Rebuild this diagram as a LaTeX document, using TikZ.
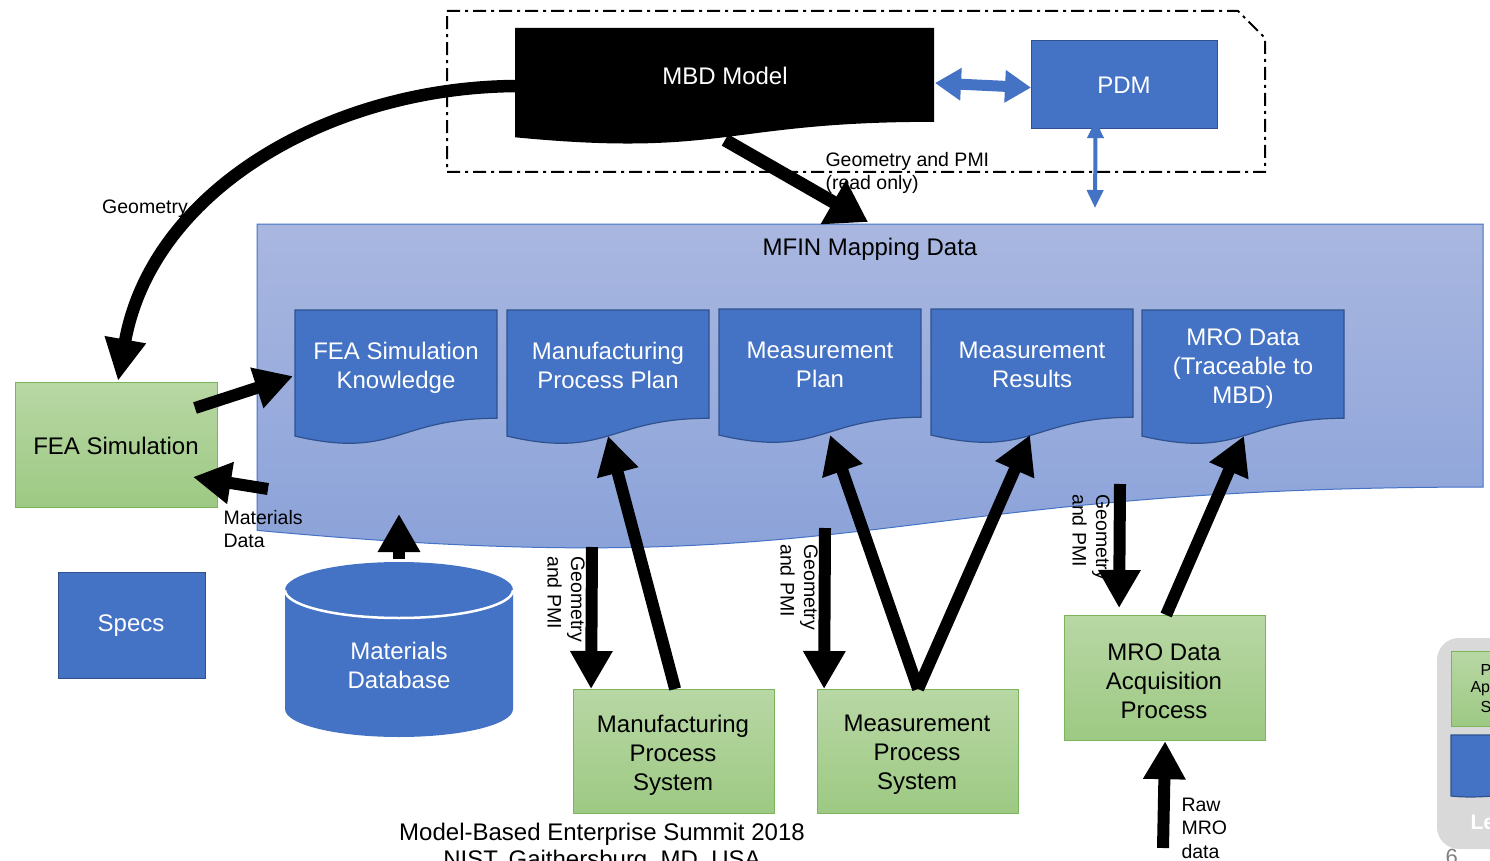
\documentclass[tikz,border=0pt]{standalone}
\usepackage{fontspec}
\setmainfont{Liberation Sans}
\usetikzlibrary{arrows.meta}

\definecolor{mblue}{HTML}{4472C4}
\definecolor{mbdr}{HTML}{2F528F}
\definecolor{gtop}{HTML}{B8D7A4}
\definecolor{gbot}{HTML}{9DC983}
\definecolor{gbdr}{HTML}{7AB55C}
\definecolor{maptop}{HTML}{A9B7E0}
\definecolor{mapbot}{HTML}{88A0D8}
\definecolor{panel}{HTML}{D9D9D9}

% document shape: flat top, wavy bottom; names the middle of the bottom edge
% and a point on the left edge
\newcommand\docshape[6]{%
  \path[#6] (#2,#3) -- ++(#4,0) -- ++(0,{0.802*#5})
    .. controls ({#2+0.5*#4},{#3+0.802*#5}) and ({#2+0.5*#4},{#3+1.1075*#5})
    .. ({#2},{#3+0.934*#5}) -- cycle;
  \coordinate (#1-b) at ({#2+0.5*#4},{#3+0.933*#5});
  \coordinate (#1-w) at ({#2-2},{#3+0.49*#5});
}

\tikzset{
  big/.style={font=\fontsize{24}{29}\selectfont, align=center},
  small/.style={font=\fontsize{19.5}{23.5}\selectfont, align=left},
  bluebox/.style={draw=mbdr, fill=mblue, line width=1.2pt},
  greenbox/.style={draw=gbdr, top color=gtop, bottom color=gbot, line width=1.2pt},
  docfill/.style={draw=mbdr, fill=mblue, line width=1.2pt},
  wtext/.style={big, text=white},
  blk/.style={draw=black, line width=12pt, -{Triangle[length=38pt,width=40pt]}},
  blkwide/.style={draw=black, line width=13pt, -{Triangle[length=40pt,width=48pt]}},
  blkcurve/.style={draw=black, line width=12.5pt, -{Triangle[length=42pt,width=39pt]}},
  bluedbl/.style={draw=mblue, line width=11pt,
    {Triangle[length=26pt,width=31pt]}-{Triangle[length=26pt,width=31pt]}},
  bluethin/.style={draw=mblue, line width=4pt,
    {Triangle[length=18pt,width=16pt]}-{Triangle[length=18pt,width=16pt]}},
  dashdot/.style={draw=black, line width=2pt, dash pattern=on 13pt off 5pt on 3pt off 5pt}
}

\begin{document}
\begin{tikzpicture}[x=1pt, y=-1pt]
\clip (0,0) rectangle (1490,861);
\fill[white] (0,0) rectangle (1490,861);

% ---------- MBD / PDM group ----------
\draw[dashdot] (447,11) -- (1238,11) -- (1265,38) -- (1265,172) -- (447,172) -- cycle;
\docshape{mbd}{515}{28}{419}{117}{fill=black}
\node[wtext] (mbdt) at (725,76) {MBD Model};
\node[bluebox, minimum width=186pt, minimum height=88pt, anchor=north west] (pdm) at (1031,40) {};
\node[wtext] (pdmt) at (1124,85) {PDM};
\coordinate (mbd-e) at (935,83);
\draw[bluedbl] (mbd-e) -- ([yshift=-3pt]pdm.west);
\coordinate (pdm-lo) at (1095,208);
\draw[bluethin] ([xshift=-29pt,yshift=9pt]pdm.south) -- (pdm-lo);

% ---------- MFIN mapping data ----------
\docshape{mfin}{257}{224}{1226}{328}{draw=mblue, line width=1pt, top color=maptop, bottom color=mapbot}
\node[big] (mfint) at (870,249) {MFIN Mapping Data};

\docshape{fsk}{295}{310}{202}{135}{docfill}
\node[wtext] (fskt) at (396,368) {FEA Simulation\\Knowledge};
\docshape{mpp}{507}{310}{202}{135}{docfill}
\node[wtext] (mppt) at (608,365) {Manufacturing\\Process Plan};
\docshape{mp}{719}{309}{202}{135}{docfill}
\node[wtext] (mpt) at (820,365) {Measurement\\Plan};
\docshape{mr}{931}{309}{202}{135}{docfill}
\node[wtext] (mrt) at (1032,365) {Measurement\\Results};
\docshape{mro}{1142}{310}{202}{135}{docfill}
\node[wtext] (mrot) at (1243,369) {MRO Data\\(Traceable to\\MBD)};

% ---------- left column ----------
\node[greenbox, minimum width=202pt, minimum height=125pt, anchor=north west] (fea) at (15,382) {};
\node[big] (feat) at (116,446) {FEA Simulation};
\node[bluebox, minimum width=147pt, minimum height=106pt, anchor=north west] (specs) at (58,572) {};
\node[wtext] (specst) at (131,626) {Specs};

% materials database cylinder
\fill[mblue] (285,590) -- (285,709) arc[start angle=180, end angle=0, x radius=114, y radius=28]
  -- (513,590) arc[start angle=0, end angle=-180, x radius=114, y radius=28] -- cycle;
\draw[white, line width=2.5pt] (285,590) arc[start angle=180, end angle=0, x radius=114, y radius=28];
\node[wtext] (matdb) at (399,665) {Materials\\Database};
\coordinate (matdb-top) at (399,559);
\coordinate (mfin-mat) at (399,514);

% ---------- lower systems ----------
\node[greenbox, minimum width=201pt, minimum height=124pt, anchor=north west] (mps) at (573,689) {};
\node[big] (mpst) at (673,755) {Manufacturing\\Process\\System};
\node[greenbox, minimum width=201pt, minimum height=124pt, anchor=north west] (msys) at (817,689) {};
\node[big] (msyst) at (917,755) {Measurement\\Process\\System};
\node[greenbox, minimum width=201pt, minimum height=125pt, anchor=north west] (mroacq) at (1064,615) {};
\node[big] (mroacqt) at (1164,681) {MRO Data\\Acquisition\\Process};

% ---------- connectors ----------
\coordinate (mbd-w) at (517,86);
\coordinate (fea-top) at (118,381);
\draw[blkcurve] (mbd-w) .. controls (330,87) and (152,190) .. (fea-top);
\node[small] (lgeo) at (145,209) {Geometry};

\coordinate (mbd-s) at (725,140);
\coordinate (mfin-top) at (868,222);
\draw[blkwide] (mbd-s) -- (mfin-top);
\node[small, anchor=west] (lgp) at (822,173) {Geometry and PMI\\(read only)};

\coordinate (fea-out) at (195,408);
\draw[blk] (fea-out) -- (fsk-w);
\coordinate (mat-in) at (268,489);
\coordinate (fea-in) at (193,477);
\draw[blk] (mat-in) -- (fea-in);
\node[small, anchor=west] (lmat) at (220,529) {Materials\\Data};
\draw[blk] (matdb-top) -- (mfin-mat);

\coordinate (mfin-a) at (592,547);
\draw[blk] (mfin-a) -- ([xshift=-83pt]mps.north);
\node[small, rotate=-90] (lg1) at (566,599) {Geometry\\and PMI};
\draw[blk] ([xshift=1pt]mps.north) -- (mpp-b);

\coordinate (mfin-b) at (825,528);
\draw[blk] (mfin-b) -- ([xshift=-94pt]msys.north);
\node[small, rotate=-90] (lg2) at (799,587) {Geometry\\and PMI};
\draw[blk] (msys.north) -- ([xshift=10pt]mp-b);
\draw[blk] (msys.north) -- ([xshift=-2pt]mr-b);

\coordinate (mfin-c) at (1120,484);
\draw[blk] (mfin-c) -- ([xshift=-46pt,yshift=7pt]mroacq.north);
\node[small, rotate=-90] (lg3) at (1091,537) {Geometry\\and PMI};
\draw[blk] ([xshift=1pt]mroacq.north) -- ([xshift=1pt]mro-b);

\coordinate (raw) at (1163,848);
\draw[blk] (raw) -- (mroacq.south);
\node[small, anchor=west] (lraw) at (1178,828) {Raw\\MRO\\data};

% ---------- footer ----------
\node[big] (foot1) at (602,834) {Model-Based Enterprise Summit 2018};
\node[big] (foot2) at (602,861) {NIST, Gaithersburg, MD, USA};

% ---------- panel at the right edge ----------
\fill[panel, rounded corners=22pt] (1437,638) rectangle (1600,849);
\node[draw=gbdr, top color=gtop, bottom color=gbot, line width=1pt, minimum width=140pt, minimum height=75pt, anchor=north west] (pbox) at (1451,651) {};
\node[font=\fontsize{16}{19}\selectfont, anchor=west] (p1) at (1477,670) {P};
\node[font=\fontsize{16}{19}\selectfont, anchor=west] (p2) at (1467,689) {Ap};
\node[font=\fontsize{16}{19}\selectfont, anchor=west] (p3) at (1477,707) {S};
\path[docfill] (1451,735) -- (1600,735) -- (1600,792) .. controls (1520,790) and (1490,800) .. (1451,796) -- cycle;
\node[font=\fontsize{21}{25}\selectfont\bfseries, text=white, anchor=west] (ple) at (1467,822) {Le};
\node[font=\fontsize{22}{26}\selectfont, text=gray, anchor=west] (pnum) at (1442,857) {6};
\end{tikzpicture}
\end{document}
